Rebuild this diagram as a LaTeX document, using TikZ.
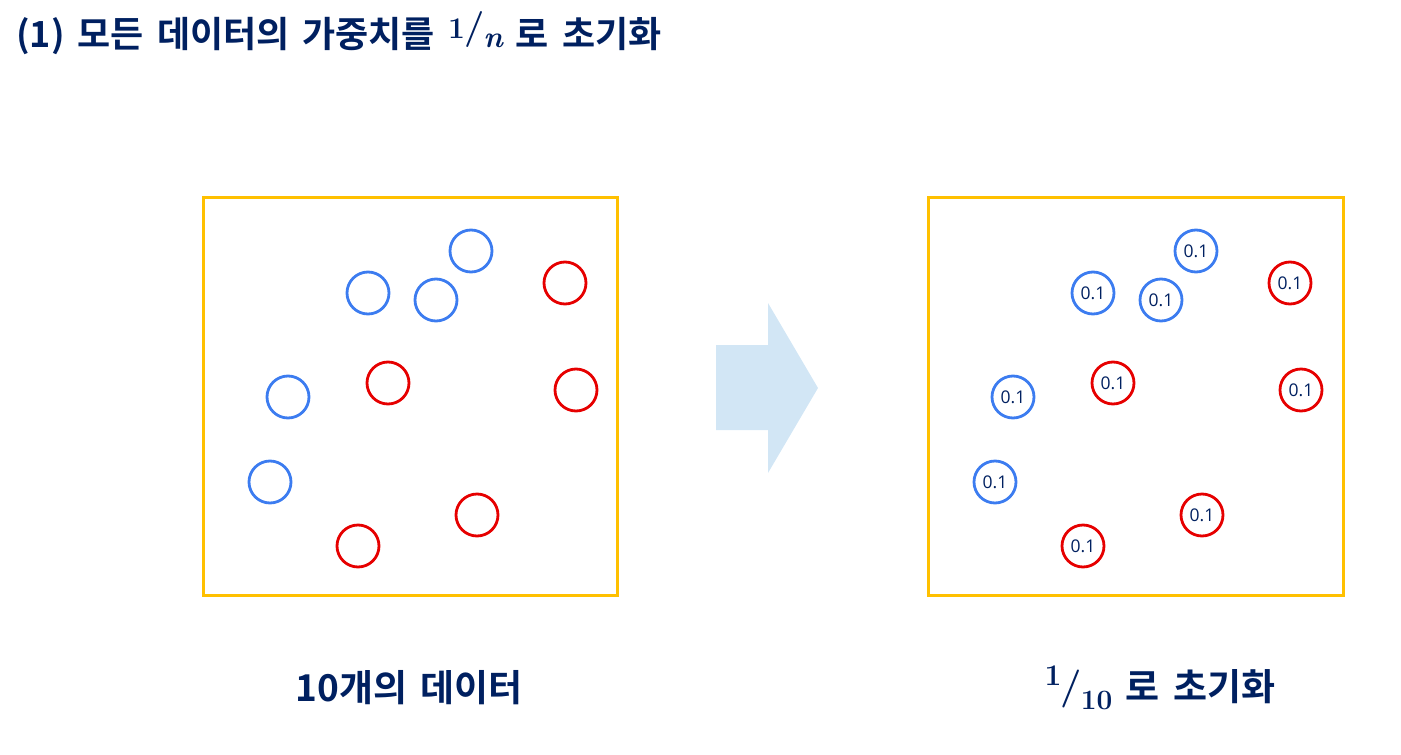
\documentclass[tikz,border=0pt]{standalone}
\usepackage{fontspec}
\newfontfamily\kr{Noto Sans CJK KR}[BoldFont={* Bold},WordSpace=2.0]
\newfontfamily\krt{Noto Sans CJK KR}[BoldFont={* Bold},WordSpace=1.6]
\newfontfamily\numfont{Open Sans}
\definecolor{navy}{HTML}{002060}
\definecolor{frame}{HTML}{FFC000}
\definecolor{bluec}{HTML}{3C7CF0}
\definecolor{redc}{HTML}{E60000}
\definecolor{arrowc}{HTML}{D2E6F5}
% #1 numerator, #2 denominator, #3 num size, #4 num raise, #5 slash size, #6 slash raise, #7 den size, #8 den raise
\newcommand{\myfrac}[8]{{\normalfont\bfseries
  \raisebox{#4}{\fontsize{#3}{#3}\selectfont #1}\kern-1pt
  \raisebox{#6}{\fontsize{#5}{#5}\selectfont /}\kern-1pt
  \raisebox{#8}{\fontsize{#7}{#7}\selectfont #2}}}
\begin{document}
\begin{tikzpicture}[x=1pt,y=-1pt,
  framebox/.style={draw=frame,line width=3pt},
  bpt/.style={circle,draw=bluec,line width=2.8pt,minimum size=42pt,inner sep=0pt,text=navy,font=\numfont\fontsize{17.5}{19}\selectfont},
  rpt/.style={bpt,draw=redc},
  lbl/.style={text=navy,inner sep=0pt,font=\kr\bfseries\fontsize{37}{42}\selectfont}]
\useasboundingbox (0,0) rectangle (1401,755);
\node[lbl,anchor=base west,font=\krt\bfseries\fontsize{36}{42}\selectfont] (title) at (16,47) {(1) 모든 데이터의 가중치를 \myfrac{1}{\itshape n}{30pt}{9pt}{36pt}{9pt}{30pt}{0pt} 로 초기화};
\draw[framebox] (203,197) rectangle (617,595);
\draw[framebox] (928,197) rectangle (1343,595);
\fill[arrowc] (716,345) -- (768,345) -- (768,303) -- (818,388) -- (768,473) -- (768,430) -- (716,430) -- cycle;
% left
\node[bpt] (lb1) at (471,251) {};
\node[bpt] (lb2) at (368,293) {};
\node[bpt] (lb3) at (436,300) {};
\node[bpt] (lb4) at (288,397) {};
\node[bpt] (lb5) at (270,482) {};
\node[rpt] (lr1) at (565,283) {};
\node[rpt] (lr2) at (388,383) {};
\node[rpt] (lr3) at (576,390) {};
\node[rpt] (lr4) at (477,515) {};
\node[rpt] (lr5) at (358,546) {};
% right
\node[bpt] (rb1) at (1196,251) {0.1};
\node[bpt] (rb2) at (1093,293) {0.1};
\node[bpt] (rb3) at (1161,300) {0.1};
\node[bpt] (rb4) at (1013,397) {0.1};
\node[bpt] (rb5) at (995,482) {0.1};
\node[rpt] (rr1) at (1290,283) {0.1};
\node[rpt] (rr2) at (1113,383) {0.1};
\node[rpt] (rr3) at (1301,390) {0.1};
\node[rpt] (rr4) at (1202,515) {0.1};
\node[rpt] (rr5) at (1083,546) {0.1};
\node[lbl,anchor=base] (l1) at (409,701) {10개의 데이터};
\node[lbl,anchor=base] (l2) at (1160,700) {\myfrac{1}{10}{30pt}{15pt}{38pt}{2pt}{28pt}{-9pt} 로 초기화};
\end{tikzpicture}
\end{document}
